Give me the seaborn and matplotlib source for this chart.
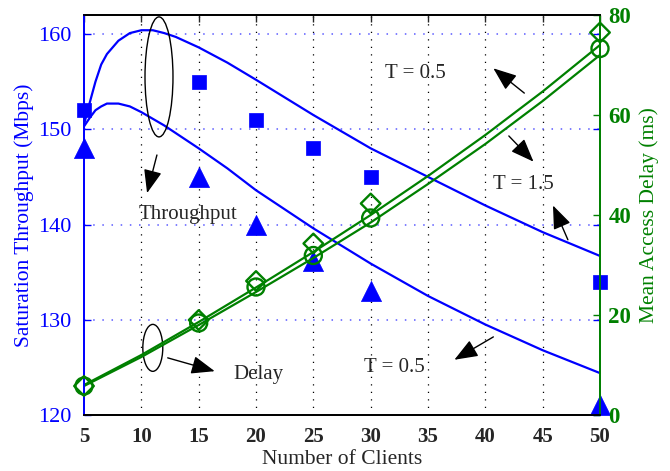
import matplotlib
matplotlib.use("Agg")
import matplotlib.pyplot as plt
from matplotlib.patches import Ellipse
import seaborn as sns
import pandas as pd

# ---- data ----
x_curve = [5, 5.5, 6, 6.5, 7, 8, 9, 10, 11, 12, 13, 15, 17.5, 20, 25, 30, 35, 40, 45, 50]
thr_upper = [150.5, 152.8, 155.0, 156.8, 157.9, 159.3, 160.1, 160.4, 160.4, 160.1, 159.7,
             158.6, 157.0, 155.2, 151.5, 148.0, 145.0, 142.0, 139.2, 136.7]
thr_lower = [150.3, 151.2, 152.0, 152.4, 152.7, 152.7, 152.4, 151.8, 151.1, 150.4, 149.6,
             148.0, 145.9, 143.6, 139.6, 135.9, 132.5, 129.5, 126.8, 124.4]

x_delay = [5, 10, 15, 20, 25, 30, 35, 40, 45, 50]
delay_upper = [6.0, 12.0, 18.6, 25.5, 32.6, 40.0, 47.8, 56.0, 64.7, 74.0]
delay_lower = [5.8, 11.6, 18.0, 24.6, 31.4, 38.5, 46.2, 54.2, 62.8, 72.0]

x_sim = [5, 15, 20, 25, 30, 50]
sim_square = [152, 155, 151, 148, 145, 134]
sim_triangle = [148, 145, 140, 136.2, 133, 121]
sim_diamond = [5.8, 19.0, 26.8, 34.3, 42.3, 76.5]
sim_circle = [5.8, 18.4, 25.6, 31.9, 39.4, 73.3]

x_ticks = [5, 10, 15, 20, 25, 30, 35, 40, 45, 50]
left_ticks = [120, 130, 140, 150, 160]
right_ticks = [0, 20, 40, 60, 80]

BLUE = "#0000FF"
GREEN = "#008000"

sns.set_style("white")
plt.rcParams["font.family"] = ["Liberation Serif", "DejaVu Serif"]

fig = plt.figure(figsize=(6.7, 4.71), dpi=100)
ax = fig.add_axes([84 / 670, 1 - 415 / 471, (600 - 84) / 670, (415 - 15) / 471])
ax2 = ax.twinx()

df_thr = pd.DataFrame({"x": x_curve, "up": thr_upper, "lo": thr_lower})
df_del = pd.DataFrame({"x": x_delay, "up": delay_upper, "lo": delay_lower})
df_sim = pd.DataFrame({"x": x_sim, "sq": sim_square, "tri": sim_triangle,
                       "dia": sim_diamond, "cir": sim_circle})

# throughput curves
sns.lineplot(data=df_thr, x="x", y="up", ax=ax, color=BLUE, linewidth=1.6)
sns.lineplot(data=df_thr, x="x", y="lo", ax=ax, color=BLUE, linewidth=1.6)
sns.scatterplot(data=df_sim, x="x", y="sq", ax=ax, marker="s", s=100,
                color=BLUE, edgecolor=BLUE, linewidth=0.5, zorder=5)
sns.scatterplot(data=df_sim, x="x", y="tri", ax=ax, marker="^", s=210,
                color=BLUE, edgecolor=BLUE, linewidth=0.5, zorder=5)

# delay curves
sns.lineplot(data=df_del, x="x", y="up", ax=ax2, color=GREEN, linewidth=1.6)
sns.lineplot(data=df_del, x="x", y="lo", ax=ax2, color=GREEN, linewidth=1.6)
sns.scatterplot(data=df_sim, x="x", y="dia", ax=ax2, marker="D", s=100,
                facecolor="none", edgecolor=GREEN, linewidth=1.7, zorder=5)
sns.scatterplot(data=df_sim, x="x", y="cir", ax=ax2, marker="o", s=150,
                facecolor="none", edgecolor=GREEN, linewidth=1.7, zorder=5)

for a in (ax, ax2):
    for c in a.collections:
        c.set_clip_on(False)

# limits & ticks
ax.set_xlim(5, 50)
ax.set_ylim(120, 162)
ax2.set_ylim(0, 80)
ax.set_xticks(x_ticks)
ax.set_yticks(left_ticks)
ax2.set_yticks(right_ticks)
ax.set_xticklabels([str(t) for t in x_ticks], fontsize=15, fontweight="bold")
ax.set_yticklabels([str(t) for t in left_ticks], fontsize=16, color=BLUE)
ax2.set_yticklabels([str(t) for t in right_ticks], fontsize=16.5, color=GREEN,
                    fontweight="bold")

ax.tick_params(axis="x", direction="in", top=True, length=5, width=1, pad=9)
ax.tick_params(axis="y", direction="in", left=True, right=True, length=5,
               width=1, colors=BLUE, pad=9)
ax2.tick_params(axis="y", direction="in", right=True, length=5, width=1,
                colors=GREEN, pad=6)

# grid
for xt in x_ticks[1:-1]:
    ax.axvline(xt, color="black", linestyle=(0, (1, 5)), linewidth=0.9, zorder=0)
for yt in left_ticks[1:]:
    ax.axhline(yt, color="#5a5aff", linestyle=(0, (1, 5)), linewidth=1.1, zorder=0)

# spines
for a in (ax, ax2):
    a.spines["top"].set_color("black")
    a.spines["bottom"].set_color("black")
    a.spines["left"].set_color(BLUE)
    a.spines["right"].set_color(GREEN)
    for s in a.spines.values():
        s.set_linewidth(1.3)

ax.set_xlabel("Number of Clients", fontsize=15.5, labelpad=2)
ax.set_ylabel("Saturation Throughput (Mbps)", fontsize=15.5, color=BLUE, labelpad=3)
ax2.set_ylabel("Mean Access Delay (ms)", fontsize=15.5, color=GREEN, labelpad=6)

# annotations
ax.add_patch(Ellipse((11.54, 155.5), 2.44, 12.6, fill=False, edgecolor="black",
                     linewidth=1.0, zorder=6))
ax.add_patch(Ellipse((11.0, 127.05), 1.74, 4.93, fill=False, edgecolor="black",
                     linewidth=1.0, zorder=6))

arrow = dict(arrowstyle="-|>,head_length=0.9,head_width=0.35", color="black",
             linewidth=1.0, shrinkA=0, shrinkB=0, mutation_scale=16)
ax.annotate("", xy=(10.5, 143.3), xytext=(11.36, 147.3), arrowprops=arrow, zorder=6)
ax.annotate("", xy=(16.4, 124.6), xytext=(12.3, 126.0), arrowprops=arrow, zorder=6)
ax.annotate("", xy=(40.7, 156.4), xytext=(43.4, 153.8), arrowprops=arrow, zorder=6)
ax.annotate("", xy=(44.2, 146.6), xytext=(42.05, 149.3), arrowprops=arrow, zorder=6)
ax.annotate("", xy=(45.9, 142.0), xytext=(47.2, 138.4), arrowprops=arrow, zorder=6)
ax.annotate("", xy=(37.3, 125.8), xytext=(40.7, 128.2), arrowprops=arrow, zorder=6)

fs = 15
ax.text(14.07, 141.0, "Throughput", fontsize=fs, ha="center", va="center", zorder=6)
ax.text(20.2, 124.2, "Delay", fontsize=fs, ha="center", va="center", zorder=6)
ax.text(33.9, 155.9, "T = 0.5", fontsize=fs, ha="center", va="center", zorder=6)
ax.text(43.3, 144.2, "T = 1.5", fontsize=fs, ha="center", va="center", zorder=6)
ax.text(32.1, 125.0, "T = 0.5", fontsize=fs, ha="center", va="center", zorder=6)

ax.set_zorder(1)
ax2.set_zorder(2)
ax2.patch.set_visible(False)

fig.savefig("out.png", dpi=100)
